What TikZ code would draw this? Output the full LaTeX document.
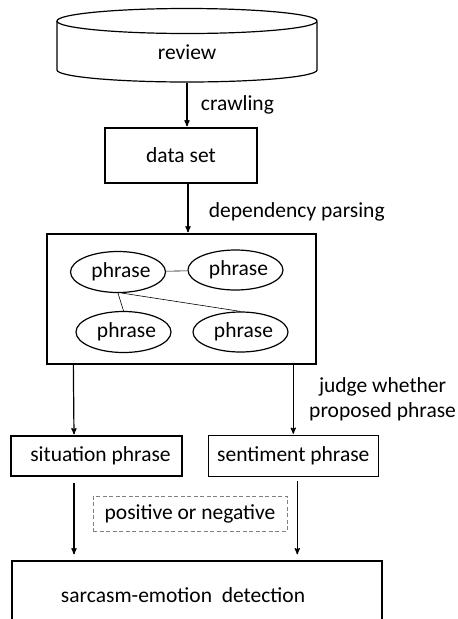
\documentclass[tikz,border=0pt]{standalone}
\usepackage{fontspec}
\setmainfont{Carlito}
\usetikzlibrary{arrows,positioning,shapes.geometric}

\begin{document}
\begin{tikzpicture}[->,>=stealth',shorten >=1pt,auto,x=1pt,y=1pt,
    font=\fontsize{21.5}{25}\selectfont,
    box/.style={draw,rectangle,line width=1.3pt,inner sep=0pt},
    phrase/.style={draw,ellipse,line width=1.2pt,inner sep=0pt,minimum width=95pt,minimum height=41pt},
    flow/.style={line width=1.2pt},
    link/.style={-,line width=0.6pt,shorten >=0pt}]
  \useasboundingbox (0,0) rectangle (458,-619);
  \clip (0,0) rectangle (458,-619);

  % database
  \draw[-,line width=1.2pt] (187,-21) ellipse [x radius=130pt,y radius=12.5pt];
  \draw[-,line width=1.2pt] (57,-21) -- (57,-70) arc[start angle=180,end angle=360,x radius=130pt,y radius=12pt] -- (317,-21);
  \node (review) [minimum width=260pt,minimum height=61pt,inner sep=0pt] at (187,-52) {review};

  \node (dataset) [box,minimum width=152pt,minimum height=55pt] at (181,-155.5) {data set};

  % parsed phrases
  \node (graph) [box,minimum width=269pt,minimum height=130pt] at (181.5,-299) {};
  \node (p1) [phrase] at (118,-272) {\hspace{6pt}phrase};
  \node (p2) [phrase,minimum height=40pt] at (235.5,-270) {\hspace{6pt}phrase};
  \node (p3) [phrase] at (123.5,-332) {\hspace{6pt}phrase};
  \node (p4) [phrase,minimum height=40pt] at (240.5,-332) {\hspace{6pt}phrase};
  \path[link] (p1) edge (p2)
    (p1.south) edge (p3.north)
    (p1.-80) edge (p4.north);

  \node (sit) [box,minimum width=171pt,minimum height=40pt] at (96.5,-456) {\hspace{8pt}situation phrase};
  \node (sent) [box,minimum width=170pt,minimum height=41pt,right=25pt of sit] {sentiment phrase};
  \node (polar) [draw=gray,dash pattern=on 4pt off 2.5pt,line width=0.8pt,inner sep=0pt,
    minimum width=194pt,minimum height=35pt] at (190,-513.5) {positive or negative};
  \node (detect) [box,minimum width=370pt,minimum height=80pt] at (197,-601) {};
  \node (detecttext) at ([xshift=-14pt,yshift=6pt]detect.center) {sarcasm-emotion\ \ detection};

  \path[flow] (review.south) edge node[right,xshift=10pt] {crawling} (review.south |- dataset.north)
    ([xshift=7pt]dataset.south) edge node[right,xshift=17pt,yshift=-3pt] {dependency parsing} ([xshift=7pt]dataset.south |- graph.north)
    ([xshift=27pt]graph.south west) edge ([xshift=-22.5pt]sit.north)
    (graph.south -| sent.north) edge node[right,xshift=12pt,align=center] {judge whether\\proposed phrase} (sent.north)
    ([xshift=-22.5pt]sit.south) edge[shorten <=6pt,shorten >=6pt] ([xshift=-22.5pt]sit.south |- detect.north)
    ([xshift=4pt]sent.south) edge[shorten <=4pt,shorten >=6pt] ([xshift=4pt]sent.south |- detect.north);
\end{tikzpicture}
\end{document}
